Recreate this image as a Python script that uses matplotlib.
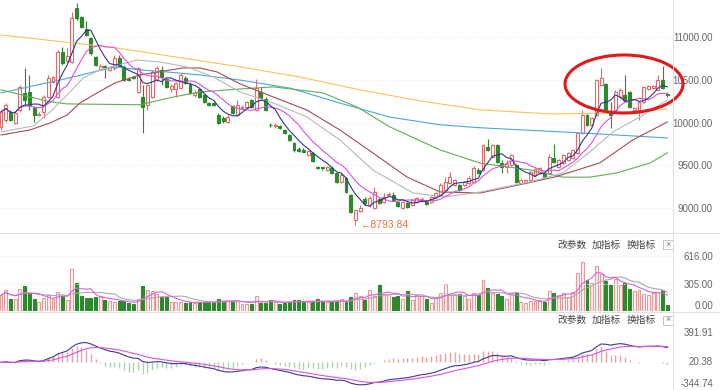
import numpy as np
import pandas as pd
import matplotlib
matplotlib.use("Agg")
import matplotlib.pyplot as plt
from matplotlib.patches import Ellipse, Rectangle
from matplotlib.lines import Line2D

plt.rcParams['font.family'] = ['Liberation Sans', 'Noto Sans CJK SC', 'DejaVu Sans']

# 日K数据
opens = [9949, 10031, 10125, 9996, 10149, 10348, 10360, 10172, 10090, 10125,
         10301, 10477, 10301, 10830, 10724, 10712, 11346, 11240, 11100, 10994,
         10771, 10630, 10665, 10618, 10642, 10759, 10653, 10513, 10536, 10360,
         10301, 10207, 10301, 10501, 10618, 10513, 10395, 10395, 10407, 10524,
         10454, 10325, 10395, 10325, 10231, 10231, 10090, 10055, 10008, 10196,
         10090, 10172, 10184, 10266, 10149, 10360, 10278, 9978, 9955, 9961,
         9914, 9855, 9761, 9685, 9679, 9620, 9644, 9474, 9474, 9444,
         9468, 9409, 9303, 9350, 9151, 8857, 8963, 9104, 9033, 8998,
         9104, 9069, 9156, 9151, 9069, 8998, 9057, 9033, 9069, 9080,
         9069, 9069, 9127, 9151, 9209, 9292, 9268, 9268, 9268, 9292,
         9303, 9444, 9444, 9714, 9597, 9738, 9526, 9480, 9503, 9503,
         9292, 9303, 9327, 9386, 9409, 9409, 9409, 9585, 9480, 9526,
         9562, 9585, 9644, 9879, 10090, 9973, 10090, 10442, 10454, 10114,
         10149, 10301, 10325, 10360, 10149, 10149, 10243, 10395, 10407, 10383,
         10501, 10342]
highs = [10149, 10231, 10149, 10137, 10442, 10642, 10560, 10196, 10125, 10325,
         10560, 10548, 10853, 10888, 10876, 11299, 11405, 11252, 11194, 11006,
         10783, 10689, 10677, 10665, 10794, 10794, 10677, 10536, 10548, 10653,
         10442, 10454, 10618, 10665, 10665, 10524, 10454, 10477, 10583, 10548,
         10477, 10383, 10407, 10336, 10243, 10243, 10114, 10078, 10090, 10207,
         10266, 10207, 10254, 10278, 10513, 10419, 10301, 9996, 9996, 9973,
         9926, 9867, 9773, 9714, 9702, 9679, 9656, 9491, 9480, 9491,
         9491, 9421, 9409, 9362, 9162, 8986, 9033, 9127, 9139, 9245,
         9115, 9174, 9186, 9186, 9080, 9080, 9069, 9104, 9127, 9127,
         9080, 9139, 9186, 9292, 9362, 9421, 9339, 9280, 9315, 9374,
         9491, 9468, 9749, 9808, 9749, 9749, 9562, 9562, 9632, 9515,
         9339, 9339, 9433, 9468, 9480, 9421, 9632, 9749, 9573, 9632,
         9656, 9691, 9890, 10149, 10102, 10067, 10513, 10642, 10466, 10243,
         10383, 10407, 10560, 10372, 10184, 10254, 10430, 10442, 10442, 10560,
         10665, 10360]
lows = [9914, 10008, 10020, 9984, 10125, 10207, 10149, 10008, 10078, 10055,
        10290, 10466, 10290, 10677, 10700, 10700, 11205, 11111, 11017, 10794,
        10665, 10618, 10524, 10606, 10618, 10653, 10489, 10489, 10513, 10348,
        9879, 10149, 10290, 10489, 10442, 10407, 10360, 10301, 10395, 10454,
        10336, 10301, 10290, 10231, 10196, 10196, 9984, 9996, 9996, 10102,
        10078, 10160, 10172, 10172, 10137, 10278, 10137, 9949, 9937, 9926,
        9867, 9785, 9656, 9656, 9656, 9609, 9538, 9456, 9444, 9433,
        9397, 9292, 9292, 9174, 8939, 8793.84, 8951, 9033, 9010, 8986,
        9045, 9057, 9139, 9080, 9010, 8986, 8998, 9022, 9057, 9069,
        9033, 9057, 9115, 9139, 9198, 9280, 9256, 9198, 9256, 9280,
        9292, 9397, 9433, 9667, 9585, 9526, 9409, 9409, 9491, 9292,
        9280, 9292, 9315, 9374, 9397, 9350, 9397, 9526, 9468, 9515,
        9550, 9573, 9632, 9867, 9961, 9961, 10078, 10430, 10137, 9937,
        10137, 10290, 10254, 10172, 10114, 10031, 10231, 10383, 10395, 10372,
        10395, 10301]
closes = [10125, 10207, 10031, 10114, 10419, 10266, 10207, 10090, 10102, 10301,
          10524, 10536, 10830, 10700, 10783, 11229, 11229, 11123, 11029, 10818,
          10677, 10665, 10653, 10653, 10759, 10665, 10501, 10501, 10524, 10642,
          10184, 10442, 10595, 10642, 10536, 10419, 10430, 10466, 10560, 10466,
          10348, 10348, 10301, 10243, 10213, 10207, 9996, 10020, 10067, 10114,
          10207, 10184, 10243, 10184, 10407, 10290, 10149, 9967, 9967, 9937,
          9879, 9797, 9679, 9667, 9661, 9667, 9550, 9462, 9462, 9480,
          9409, 9303, 9386, 9186, 8951, 8975, 8998, 9057, 9115, 9186,
          9057, 9127, 9168, 9092, 9022, 9069, 9010, 9092, 9115, 9104,
          9045, 9127, 9174, 9268, 9303, 9362, 9327, 9209, 9303, 9350,
          9468, 9409, 9738, 9679, 9738, 9538, 9480, 9515, 9620, 9303,
          9327, 9327, 9421, 9456, 9468, 9362, 9597, 9538, 9562, 9620,
          9644, 9679, 9879, 10090, 9973, 10055, 10501, 10524, 10149, 10090,
          10360, 10383, 10266, 10184, 10172, 10243, 10419, 10430, 10430, 10501,
          10407, 10330]
volumes = [174, 237, 137, 130, 248, 274, 204, 137, 100, 144,
           181, 137, 211, 163, 126, 466, 311, 166, 148, 148,
           155, 166, 126, 111, 100, 111, 111, 89, 74, 130,
           278, 229, 218, 192, 155, 155, 100, 100, 100, 89,
           100, 89, 100, 100, 100, 100, 137, 111, 111, 111,
           111, 81, 81, 81, 166, 89, 89, 126, 100, 81,
           89, 100, 126, 118, 100, 100, 100, 137, 107, 100,
           100, 111, 130, 100, 155, 200, 166, 126, 237, 166,
           285, 185, 185, 155, 166, 130, 218, 126, 181, 163,
           130, 89, 144, 200, 296, 192, 185, 185, 163, 137,
           200, 174, 340, 259, 200, 192, 166, 137, 200, 200,
           100, 89, 111, 111, 118, 100, 218, 200, 174, 200,
           155, 211, 422, 544, 348, 311, 496, 414, 329, 285,
           359, 292, 311, 248, 222, 237, 192, 174, 200, 211,
           229, 63]

# 长周期均线 (按K线序号读取)
ma20_idx = [0, 6.8, 10.4, 14, 17.4, 20.9, 24.1, 28.8, 33.6, 39.4, 44.9, 50.6, 57.6,
            64.7, 71.7, 78.7, 87.2, 94, 101.4, 111.9, 118.9, 124.6, 129.5, 135.2, 141]
ma20 = [9891, 9961, 10125, 10325, 10525, 10618, 10665, 10736, 10712, 10654, 10536, 10360,
        10231, 10067, 9797, 9444, 9174, 9127, 9186, 9304, 9409, 9656, 9891, 10067, 10266]
ma30_idx = [0, 6.1, 10.4, 14, 16.7, 20.3, 24.1, 29.4, 38.5, 42.1, 45.7, 50.6, 57.6,
            64.7, 71.7, 78.7, 85.9, 92.9, 101.4, 110.5, 117.2, 126.7, 133.7, 141]
ma30 = [9855, 9914, 9996, 10090, 10231, 10348, 10466, 10560, 10642, 10642, 10595, 10455,
        10301, 10149, 9914, 9644, 9362, 9186, 9174, 9280, 9362, 9527, 9797, 10008]
ma60_idx = [0, 10.4, 14, 29.4, 36.4, 42.1, 50.6, 57.6, 68.1, 75.3, 82.3, 92.9, 101.4,
            111.9, 118.9, 124.6, 130.3, 137.3, 141]
ma60 = [10385, 10245, 10220, 10210, 10300, 10360, 10395, 10420, 10350, 10185, 9950, 9680,
        9525, 9445, 9360, 9360, 9410, 9525, 9645]
ma120_idx = [0, 12.5, 24.1, 29.4, 35.1, 42.1, 50.6, 61.2, 71.7, 82.3, 92.9, 101.4, 122.5, 141]
ma120 = [10350, 10500, 10655, 10620, 10595, 10560, 10500, 10405, 10230, 10065, 9975, 9940,
         9880, 9820]
ma250_idx = [0, 24.1, 50.6, 63.3, 76, 88.7, 101.4, 116.2, 126.7, 135.2, 141]
ma250 = [11030, 10880, 10655, 10535, 10385, 10255, 10150, 10102, 10110, 10130, 10160]

price_ticks = [9000, 9500, 10000, 10500, 11000]
vol_ticks = [0, 305, 616]
macd_ticks = [-344.74, 20.38, 391.91]
menu_labels = ['改参数', '加指标', '换指标']
low_index = 75
low_price = 8793.84

RED = '#e26a6a'
GREEN = '#2b8a2b'

n = len(closes)
x = np.arange(n)
close_s = pd.Series(closes, dtype=float)
vol_s = pd.Series(volumes, dtype=float)
up = np.array(closes) >= np.array(opens)
edge_c = [RED if u else GREEN for u in up]
face_c = ['white' if u else GREEN for u in up]

W, H = 720, 390
def frac(left, top, w, h):
    return [left / W, 1 - (top + h) / H, w / W, h / H]

fig = plt.figure(figsize=(7.2, 3.9), dpi=100)
ax = fig.add_axes(frac(0, 0, 673, 232))
axv = fig.add_axes(frac(0, 234, 673, 77))
axm = fig.add_axes(frac(0, 313, 673, 77))

for a in (ax, axv, axm):
    for s in a.spines.values():
        s.set_visible(False)
    a.set_xlim(-0.21, 142.2)
    a.set_xticks([])
    a.yaxis.tick_right()
    a.tick_params(axis='y', length=0, pad=28.8, labelsize=7, labelcolor='#666666')

# 主图 K线
body_low = np.minimum(opens, closes)
body_h = np.maximum(np.abs(np.array(closes) - np.array(opens)), 8)
ax.vlines(x, lows, highs, colors=edge_c, lw=0.8, zorder=2)
ax.bar(x, body_h, bottom=body_low, width=0.62, color=face_c, edgecolor=edge_c, lw=0.8, zorder=3)

ax.plot(ma250_idx, ma250, color='#f3c55a', lw=0.8, zorder=4)
ax.plot(ma120_idx, ma120, color='#4ea7dc', lw=0.8, zorder=4)
ax.plot(ma60_idx, ma60, color='#62ad55', lw=0.8, zorder=4)
ax.plot(ma30_idx, ma30, color='#a14f4f', lw=0.8, zorder=4)
ax.plot(ma20_idx, ma20, color='#b9b9b9', lw=0.8, zorder=4)
ax.plot(x, close_s.rolling(10, min_periods=1).mean(), color='#e04fe0', lw=0.8, zorder=5)
ax.plot(x, close_s.rolling(5, min_periods=1).mean(), color='#34348f', lw=0.8, zorder=5)

ax.set_ylim(8716, 11440)
ax.set_yticks(price_ticks)
ax.set_yticklabels([f'{v:.2f}' for v in price_ticks])
ax.grid(axis='y', color='#ededed', lw=0.6, ls=(0, (2, 2)))
ax.text(low_index + 1.2, low_price, '←' + f'{low_price:.2f}', color='#e8773a',
        fontsize=7.5, va='center', ha='left')

# 成交量
vol_face = ['#fdf1f1' if u else GREEN for u in up]
vol_edge = ['#e79a9a' if u else GREEN for u in up]
axv.bar(x, volumes, width=0.62, color=vol_face, edgecolor=vol_edge, lw=0.8)
axv.plot(x, vol_s.rolling(10, min_periods=1).mean(), color='#aaaaaa', lw=0.8)
axv.plot(x, vol_s.rolling(5, min_periods=1).mean(), color='#e060e0', lw=0.8)
axv.set_ylim(0, 855)
axv.set_yticks(vol_ticks)
axv.set_yticklabels([f'{v:.2f}' for v in vol_ticks])
axv.grid(axis='y', color='#ededed', lw=0.6, ls=(0, (2, 2)))

# MACD
ema12 = close_s.ewm(span=12, adjust=False).mean()
ema26 = close_s.ewm(span=26, adjust=False).mean()
dif = ema12 - ema26
dea = dif.ewm(span=9, adjust=False).mean()
hist = 2 * (dif - dea)
axm.vlines(x, 0, hist, colors=np.where(hist >= 0, '#eaa3a3', '#a9d6a9'), lw=1.0)
axm.plot(x, dif, color='#3a3a96', lw=0.8)
axm.plot(x, dea, color='#e050e0', lw=0.8)
axm.set_ylim(-355, 631)
axm.set_yticks(macd_ticks)
axm.set_yticklabels([f'{v:.2f}' for v in macd_ticks])

for a in (ax, axv, axm):
    for t in a.get_yticklabels():
        t.set_ha('right')
axv.get_yticklabels()[0].set_va('bottom')
axm.get_yticklabels()[0].set_va('bottom')

# 分隔线
for y in (233, 312):
    fig.add_artist(Line2D([0, 1], [1 - y / H] * 2, color='#e2e2e2', lw=0.8))
fig.add_artist(Line2D([673 / W] * 2, [0, 1], color='#e2e2e2', lw=0.8))

# 指标菜单
for ytop in (245, 320):
    for label, cx in zip(menu_labels, (572, 606.5, 641)):
        fig.text(cx / W, 1 - ytop / H, label, ha='center', va='center', fontsize=7,
                 color='#444444', family=['Noto Sans CJK SC', 'DejaVu Sans'])
    fig.add_artist(Rectangle((663 / W, 1 - (ytop + 4.5) / H), 10 / W, 9 / H,
                             transform=fig.transFigure, fill=False, edgecolor='#bbbbbb', lw=0.6))
    fig.text(668 / W, 1 - ytop / H, '×', ha='center', va='center', fontsize=6.5, color='#777777')

# 红圈
fig.add_artist(Ellipse((624 / W, 1 - 84 / H), 118 / W, 58 / H, transform=fig.transFigure,
                       fill=False, edgecolor='#e3191c', lw=2.2))

fig.savefig('out.png', dpi=100)
